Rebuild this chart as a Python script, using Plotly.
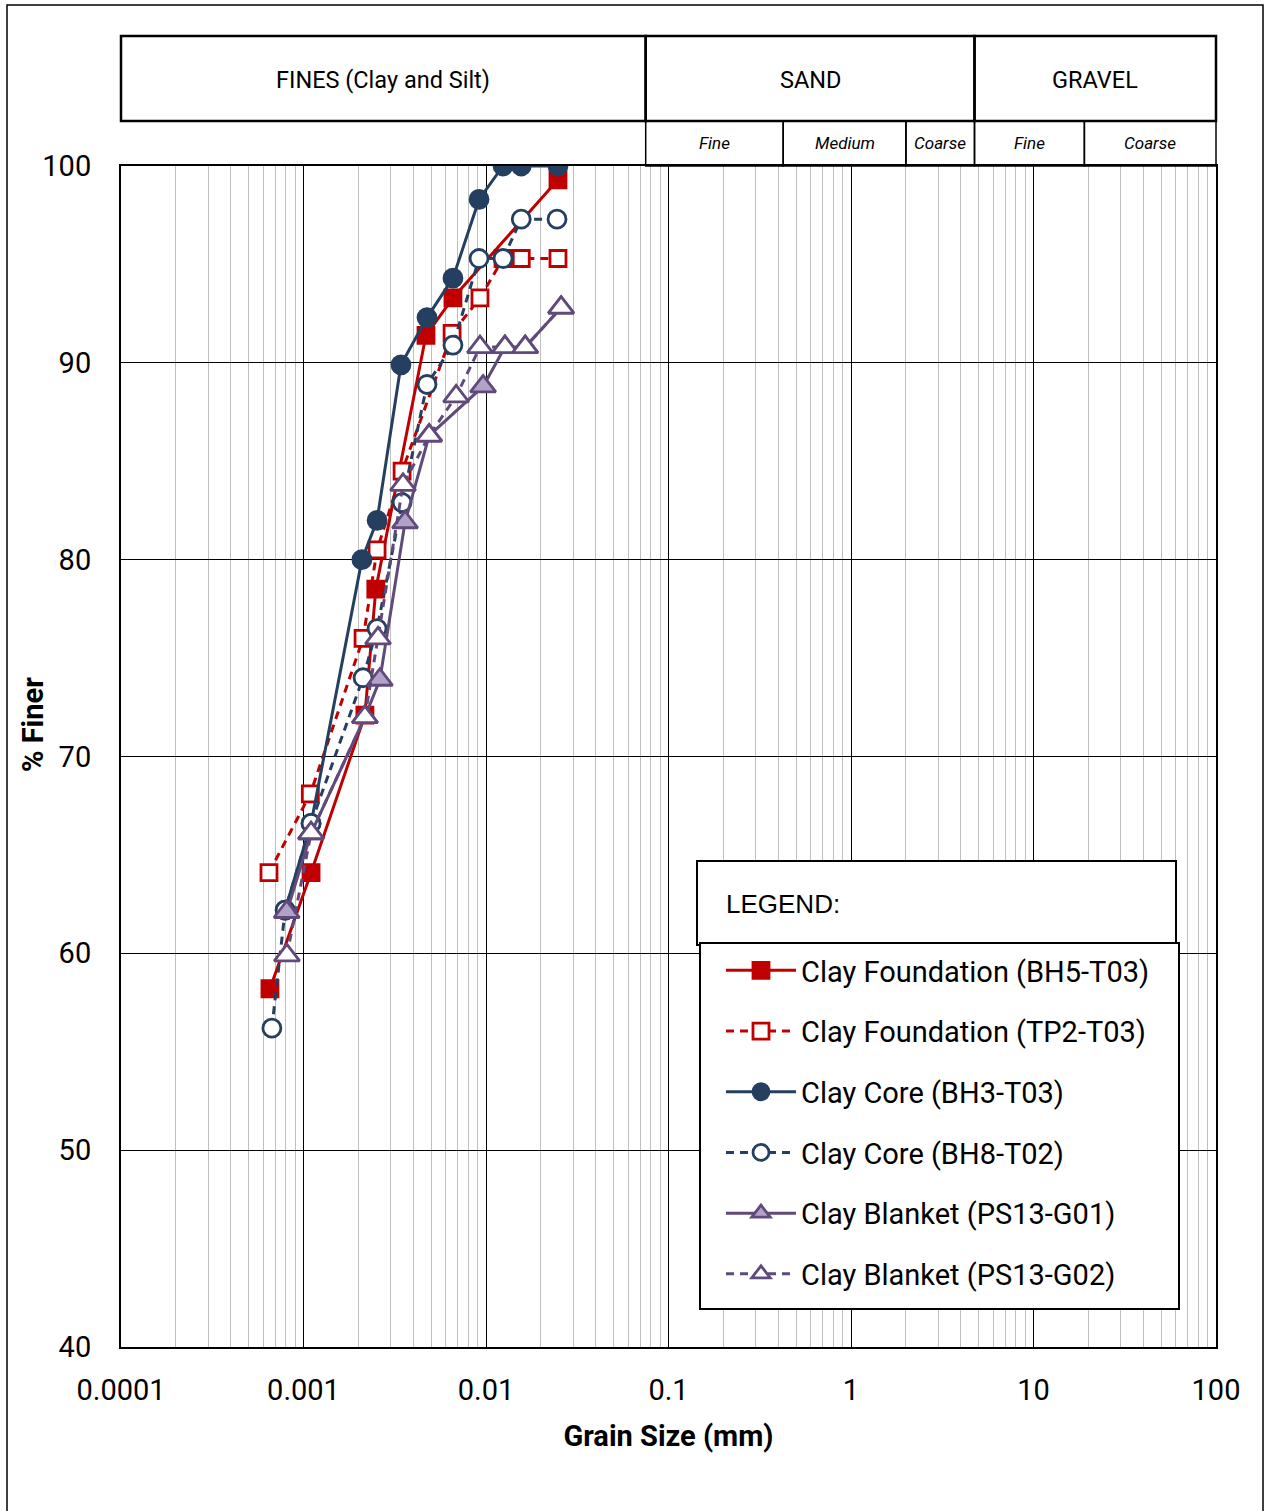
import plotly.graph_objects as go
import math

# ---------------- data (grain size in mm, % finer) ----------------
bh5_t03_x = [0.000655, 0.00110, 0.00217, 0.00249, 0.00469, 0.00659, 0.0248]
bh5_t03_y = [58.2, 64.1, 72.1, 78.5, 91.4, 93.3, 99.3]

tp2_t03_x = [0.000647, 0.00109, 0.00212, 0.00253, 0.00347, 0.00652, 0.00927, 0.0124, 0.0156, 0.0248]
tp2_t03_y = [64.1, 68.1, 76.0, 80.5, 84.5, 91.5, 93.3, 95.3, 95.3, 95.3]

bh3_t03_x = [0.000793, 0.00110, 0.00209, 0.00253, 0.00342, 0.00475, 0.00659, 0.00916, 0.0124, 0.0156, 0.0248]
bh3_t03_y = [62.2, 66.6, 80.0, 82.0, 89.9, 92.3, 94.3, 98.3, 100.0, 100.0, 100.0]

bh8_t02_x = [0.000671, 0.000793, 0.00110, 0.00212, 0.00253, 0.00347, 0.00475, 0.00659, 0.00916, 0.0124, 0.0156, 0.0245]
bh8_t02_y = [56.2, 62.2, 66.6, 74.0, 76.5, 82.9, 88.9, 90.9, 95.3, 95.3, 97.3, 97.3]

ps13_g01_x = [0.000809, 0.00110, 0.00217, 0.00262, 0.00360, 0.00488, 0.00964, 0.0127, 0.0164, 0.0258]
ps13_g01_y = [62.1, 66.1, 72.0, 73.9, 81.9, 86.3, 88.8, 90.8, 90.8, 92.8]

ps13_g02_x = [0.000811, 0.00110, 0.00217, 0.00256, 0.00351, 0.00488, 0.00686, 0.00927, 0.0127, 0.0164, 0.0258]
ps13_g02_y = [59.9, 66.1, 72.0, 76.0, 83.8, 86.3, 88.3, 90.8, 90.8, 90.8, 92.8]

x_tick_vals = [0.0001, 0.001, 0.01, 0.1, 1, 10, 100]
x_tick_text = ["0.0001", "0.001", "0.01", "0.1", "1", "10", "100"]
y_tick_vals = [40, 50, 60, 70, 80, 90, 100]

# soil classification boundaries (mm)
fines_sand = 0.075
sand_fine_med = 0.425
sand_med_coarse = 2.0
sand_gravel = 4.75
gravel_fine_coarse = 19.0
x_max = 100.0

# ---------------- styling ----------------
RED = "#C00000"
NAVY = "#243F60"
PURPLE = "#604A7B"
LILAC = "#B3A2C7"
DASH = "8px,6px"
FONT = "Roboto"

W, H = 1266, 1511
ML, MR, MT, MB = 121, 50, 166, 164
PW, PH = W - ML - MR, H - MT - MB


def px(v):
    """paper x for a grain size value on the log axis [-4, 2]"""
    return (math.log10(v) + 4) / 6


def pxp(p):
    """paper x from page pixel"""
    return (p - ML) / PW


def pyp(p):
    """paper y from page pixel"""
    return (H - MB - p) / PH


fig = go.Figure()

series = [
    ("Clay Foundation (BH5-T03)", bh5_t03_x, bh5_t03_y, RED, "solid", "square", RED, RED),
    ("Clay Foundation (TP2-T03)", tp2_t03_x, tp2_t03_y, RED, DASH, "square", "white", RED),
    ("Clay Core (BH3-T03)", bh3_t03_x, bh3_t03_y, NAVY, "solid", "circle", NAVY, NAVY),
    ("Clay Core (BH8-T02)", bh8_t02_x, bh8_t02_y, NAVY, DASH, "circle", "white", NAVY),
    ("Clay Blanket (PS13-G01)", ps13_g01_x, ps13_g01_y, PURPLE, "solid", "triangle-up", LILAC, PURPLE),
    ("Clay Blanket (PS13-G02)", ps13_g02_x, ps13_g02_y, PURPLE, DASH, "triangle-up", "white", PURPLE),
]

for i, (name, xs, ys, col, dash, sym, fill, edge) in enumerate(series):
    size = {"square": 16, "circle": 18, "triangle-up": 22}[sym]
    fig.add_trace(go.Scatter(
        x=xs, y=ys, name=name, mode="lines+markers",
        legendgroup=f"g{i}",
        line=dict(color=col, width=3, dash=dash),
        marker=dict(symbol=sym, size=size, color=fill,
                    line=dict(color=edge, width=2.8)),
    ))

minor_vals = [m * 10 ** e for e in range(-4, 2) for m in range(2, 10)]

fig.update_xaxes(
    type="log", range=[-4, 2],
    tickmode="array", tickvals=x_tick_vals, ticktext=x_tick_text,
    showgrid=True, gridcolor="black", gridwidth=1.3,
    minor=dict(tickmode="array", tickvals=minor_vals, showgrid=True,
               gridcolor="#BFBFBF", gridwidth=1.4, ticks=""),
    showline=True, linecolor="black", linewidth=2, mirror=True,
    ticks="", ticklabelstandoff=16,
    tickfont=dict(family=FONT, size=29, color="black"),
    title=dict(text="<b>Grain Size (mm)</b>", standoff=20,
               font=dict(family=FONT, size=29, color="black")),
    zeroline=False,
)
fig.update_yaxes(
    range=[40, 100], tickmode="array", tickvals=y_tick_vals,
    showgrid=True, gridcolor="black", gridwidth=1.3,
    showline=True, linecolor="black", linewidth=2, mirror=True,
    ticks="", ticklabelstandoff=22,
    tickfont=dict(family=FONT, size=29, color="black"),
    zeroline=False,
)

shapes = []
# outer frame
shapes.append(dict(type="rect", xref="paper", yref="paper",
                   x0=pxp(7), x1=pxp(1263), y0=pyp(1530), y1=pyp(5),
                   line=dict(color="black", width=1.5), layer="below"))

top_y1, top_y0 = pyp(36), pyp(121)
sub_y1, sub_y0 = pyp(121), 1.0
hdr_line = dict(color="black", width=2.5)
# top row boxes
for a, b in [(0.0001, fines_sand), (fines_sand, sand_gravel), (sand_gravel, x_max)]:
    shapes.append(dict(type="rect", xref="paper", yref="paper",
                       x0=px(a), x1=px(b), y0=top_y0, y1=top_y1, line=hdr_line))
# sub-division boxes
for a, b in [(fines_sand, sand_fine_med), (sand_fine_med, sand_med_coarse),
             (sand_med_coarse, sand_gravel), (sand_gravel, gravel_fine_coarse),
             (gravel_fine_coarse, x_max)]:
    shapes.append(dict(type="rect", xref="paper", yref="paper",
                       x0=px(a), x1=px(b), y0=sub_y0, y1=sub_y1,
                       line=dict(color="black", width=1.5)))

# LEGEND: header box
shapes.append(dict(type="rect", xref="paper", yref="paper",
                   x0=pxp(697), x1=pxp(1176), y0=pyp(945), y1=pyp(861),
                   line=dict(color="black", width=2), fillcolor="white", layer="above"))
# legend entries box
shapes.append(dict(type="rect", xref="paper", yref="paper",
                   x0=pxp(700), x1=pxp(1179), y0=pyp(1309), y1=pyp(943),
                   line=dict(color="black", width=2), fillcolor="white", layer="above"))

annotations = []
hdr_font = dict(family=FONT, size=23.5, color="black")
for text, a, b in [("FINES (Clay and Silt)", 0.0001, fines_sand),
                   ("SAND", fines_sand, sand_gravel),
                   ("GRAVEL", sand_gravel, x_max)]:
    annotations.append(dict(text=text, xref="paper", yref="paper",
                            x=(px(a) + px(b)) / 2, y=pyp(80), showarrow=False,
                            font=hdr_font, xanchor="center", yanchor="middle"))
sub_mid = (sub_y0 + sub_y1) / 2
sub_font = dict(family=FONT, size=17, color="black", style="italic")
for text, a, b in [("Fine", fines_sand, sand_fine_med), ("Medium", sand_fine_med, sand_med_coarse),
                   ("Coarse", sand_med_coarse, sand_gravel), ("Fine", sand_gravel, gravel_fine_coarse),
                   ("Coarse", gravel_fine_coarse, x_max)]:
    annotations.append(dict(text=text, xref="paper", yref="paper",
                            x=(px(a) + px(b)) / 2, y=sub_mid, showarrow=False,
                            font=sub_font, xanchor="center", yanchor="middle"))

annotations.append(dict(text="LEGEND:", xref="paper", yref="paper",
                        x=pxp(724), y=pyp(904), showarrow=False, xanchor="left",
                        yanchor="middle",
                        font=dict(family="Liberation Sans", size=26, color="black")))

# y-axis title (sits above the axis centre in the reference)
annotations.append(dict(text="<b>% Finer</b>", xref="paper", yref="paper",
                        x=pxp(33), y=pyp(725), showarrow=False, textangle=-90,
                        xanchor="center", yanchor="middle",
                        font=dict(family=FONT, size=29, color="black")))

fig.update_layout(
    width=W, height=H,
    margin=dict(l=ML, r=MR, t=MT, b=MB, autoexpand=False),
    paper_bgcolor="white", plot_bgcolor="white",
    shapes=shapes, annotations=annotations,
    showlegend=True,
    legend=dict(x=pxp(721), y=pyp(945), xanchor="left", yanchor="top",
                bgcolor="rgba(0,0,0,0)", borderwidth=0,
                font=dict(family=FONT, size=29, color="black"),
                tracegroupgap=20, itemwidth=70),
)

fig.write_html("out.html")
